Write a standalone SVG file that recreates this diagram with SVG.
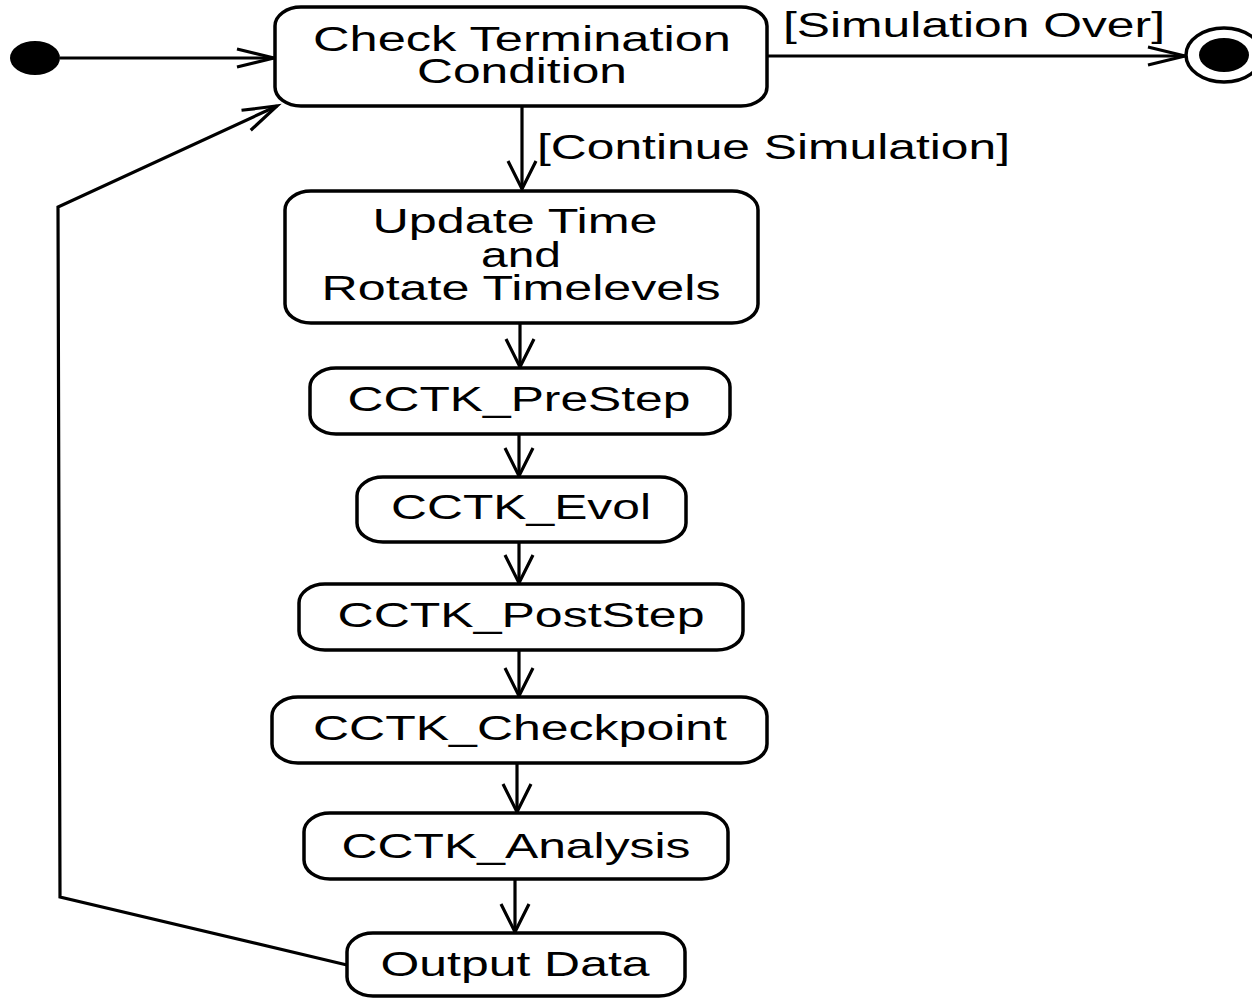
<svg xmlns="http://www.w3.org/2000/svg" width="1252" height="998" viewBox="0 0 1252 998">
<style>
.n{fill:#fff;stroke:#000;stroke-width:3.5}
.t{font-family:"Liberation Sans",Arial,sans-serif;font-size:35px;fill:#000}
.c{fill:none;stroke:#000;stroke-width:3.2}
</style>
<defs>
<marker id="aH" markerUnits="userSpaceOnUse" markerWidth="50" markerHeight="40" refX="0" refY="0" viewBox="-40 -20 50 40" orient="auto" overflow="visible">
<path d="M-37,-9 L0,0 L-37,9" fill="none" stroke="#000" stroke-width="3.2"/>
</marker>
<marker id="aV" markerUnits="userSpaceOnUse" markerWidth="50" markerHeight="40" refX="0" refY="0" viewBox="-40 -20 50 40" orient="auto" overflow="visible">
<path d="M-28,-14 L0,0 L-28,14" fill="none" stroke="#000" stroke-width="3.2"/>
</marker>
<marker id="aD" markerUnits="userSpaceOnUse" markerWidth="50" markerHeight="40" refX="0" refY="0" viewBox="-40 -20 50 40" orient="auto" overflow="visible">
<path d="M-34,-11 L0,0 L-34,11" fill="none" stroke="#000" stroke-width="3.2"/>
</marker>
</defs>
<rect width="1252" height="998" fill="#fff"/>
<g id="connectors">
<path class="c" d="M60,58 L274,58" marker-end="url(#aH)"/>
<path class="c" d="M768,56 L1185,56" marker-end="url(#aH)"/>
<path class="c" d="M522,106 L522,189" marker-end="url(#aV)"/>
<path class="c" d="M520,324 L520,367" marker-end="url(#aV)"/>
<path class="c" d="M519,435 L519,476" marker-end="url(#aV)"/>
<path class="c" d="M519,542 L519,583" marker-end="url(#aV)"/>
<path class="c" d="M519,651 L519,696" marker-end="url(#aV)"/>
<path class="c" d="M517,764 L517,812" marker-end="url(#aV)"/>
<path class="c" d="M515,879 L515,932" marker-end="url(#aV)"/>
<path class="c" d="M347,965 L60,897 L58,207 L277,106" marker-end="url(#aD)"/>
<text class="t" x="783" y="37" textLength="382" lengthAdjust="spacingAndGlyphs">[Simulation Over]</text>
<text class="t" x="537" y="159" textLength="473" lengthAdjust="spacingAndGlyphs">[Continue Simulation]</text>
</g>
<g id="initial">
<ellipse cx="35" cy="58" rx="25" ry="17" fill="#000"/>
</g>
<g id="final">
<ellipse cx="1224" cy="55" rx="38" ry="27" fill="#fff" stroke="#000" stroke-width="3.5"/>
<ellipse cx="1224" cy="55" rx="25" ry="17" fill="#000"/>
</g>
<g id="check">
<rect class="n" x="275" y="7" width="492" height="99" rx="26" ry="19"/>
<text class="t" x="522" y="51" text-anchor="middle" textLength="418" lengthAdjust="spacingAndGlyphs">Check Termination</text>
<text class="t" x="522" y="83" text-anchor="middle" textLength="210" lengthAdjust="spacingAndGlyphs">Condition</text>
</g>
<g id="update">
<rect class="n" x="285" y="191" width="473" height="132" rx="26" ry="19"/>
<text class="t" x="515" y="233" text-anchor="middle" textLength="285" lengthAdjust="spacingAndGlyphs">Update Time</text>
<text class="t" x="521" y="267" text-anchor="middle" textLength="80" lengthAdjust="spacingAndGlyphs">and</text>
<text class="t" x="521" y="300" text-anchor="middle" textLength="399" lengthAdjust="spacingAndGlyphs">Rotate Timelevels</text>
</g>
<g id="prestep">
<rect class="n" x="310" y="368" width="420" height="66" rx="26" ry="19"/>
<text class="t" x="519" y="411" text-anchor="middle" textLength="343" lengthAdjust="spacingAndGlyphs">CCTK_PreStep</text>
</g>
<g id="evol">
<rect class="n" x="357" y="477" width="329" height="65" rx="26" ry="19"/>
<text class="t" x="521" y="519" text-anchor="middle" textLength="260" lengthAdjust="spacingAndGlyphs">CCTK_Evol</text>
</g>
<g id="poststep">
<rect class="n" x="299" y="584" width="444" height="66" rx="26" ry="19"/>
<text class="t" x="521" y="627" text-anchor="middle" textLength="367" lengthAdjust="spacingAndGlyphs">CCTK_PostStep</text>
</g>
<g id="checkpoint">
<rect class="n" x="272" y="697" width="495" height="66" rx="26" ry="19"/>
<text class="t" x="520" y="740" text-anchor="middle" textLength="414" lengthAdjust="spacingAndGlyphs">CCTK_Checkpoint</text>
</g>
<g id="analysis">
<rect class="n" x="304" y="813" width="424" height="66" rx="26" ry="19"/>
<text class="t" x="516" y="858" text-anchor="middle" textLength="349" lengthAdjust="spacingAndGlyphs">CCTK_Analysis</text>
</g>
<g id="output">
<rect class="n" x="347" y="933" width="338" height="63" rx="26" ry="19"/>
<text class="t" x="515" y="976" text-anchor="middle" textLength="269" lengthAdjust="spacingAndGlyphs">Output Data</text>
</g>
</svg>
